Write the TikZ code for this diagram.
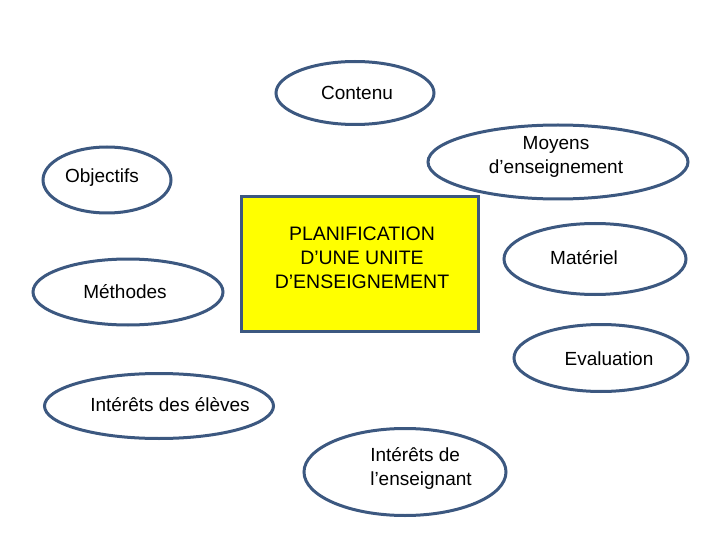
\documentclass[tikz,border=0pt]{standalone}
\usepackage{fontspec}
\setmainfont{Liberation Sans}
\usepackage{tikz}
\usetikzlibrary{shapes.geometric}
\definecolor{bordbleu}{RGB}{60, 88, 128}
\definecolor{jaunebox}{RGB}{255, 255, 0}

\tikzset{
  bulle/.style={ellipse, draw=bordbleu, line width=3pt, fill=white, inner sep=0pt},
  texte/.style={font=\fontsize{19}{24}\selectfont, align=center, inner sep=0pt},
}

\begin{document}
\begin{tikzpicture}[x=1pt, y=-1pt]
\useasboundingbox (0,0) rectangle (720,540);
% cadre central
\node[draw=bordbleu, line width=3pt, fill=jaunebox, minimum width=237pt, minimum height=134pt, inner sep=0pt] (plan) at (360,264) {};
\node[texte, font=\fontsize{19.5}{24}\selectfont] (plan-t) at (362,258) {PLANIFICATION\\D’UNE UNITE\\D’ENSEIGNEMENT};
% ellipses
\node[bulle, minimum width=158pt, minimum height=63pt] (contenu) at (355,93) {};
\node[texte] (contenu-t) at (357,93) {Contenu};
\node[bulle, minimum width=260pt, minimum height=74pt] (moyens) at (558,162) {};
\node[texte] (moyens-t) at (556,157) {Moyens\\d’enseignement};
\node[bulle, minimum width=128pt, minimum height=66pt] (objectifs) at (107,180) {};
\node[texte] (objectifs-t) at (102,178) {Objectifs};
\node[bulle, minimum width=190pt, minimum height=66pt] (methodes) at (128,292) {};
\node[texte] (methodes-t) at (125,292) {Méthodes};
\node[bulle, minimum width=182pt, minimum height=71pt] (materiel) at (595,259) {};
\node[texte] (materiel-t) at (584,258) {Matériel};
\node[bulle, minimum width=174pt, minimum height=67pt] (evaluation) at (601,358) {};
\node[texte] (evaluation-t) at (609,359) {Evaluation};
\node[bulle, minimum width=229pt, minimum height=65pt] (eleves) at (159,406) {};
\node[texte] (eleves-t) at (170,405) {Intérêts des élèves};
\node[bulle, minimum width=202pt, minimum height=87pt] (enseignant) at (405,472) {};
\node[texte, align=left] (enseignant-t) at (421,468) {Intérêts de\\l’enseignant};
\end{tikzpicture}
\end{document}
